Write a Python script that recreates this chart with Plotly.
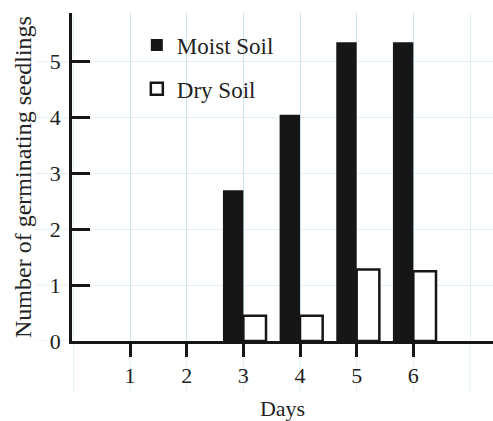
import plotly.graph_objects as go

# ---- data ----
days = [1, 2, 3, 4, 5, 6]
day_labels = ["1", "2", "3", "4", "5", "6"]
moist_soil = [0, 0, 2.7, 4.05, 5.35, 5.35]
dry_soil = [0, 0, 0.45, 0.45, 1.28, 1.25]
y_ticks = [0, 1, 2, 3, 4, 5]
y_tick_labels = ["0", "1", "2", "3", "4", "5"]
paper_grid_x = [0, 1, 2, 3, 4, 5, 6, 7]   # graph-paper lines behind the chart

FONT = "Liberation Serif"
INK = "#161616"
TXT = "#222222"
GRID = "rgba(160,205,230,0.30)"

fig = go.Figure()
fig.add_trace(go.Bar(
    x=days, y=[v if v > 0 else None for v in moist_soil], name="Moist Soil",
    width=0.36, offset=-0.36,
    marker=dict(color=INK, line=dict(width=0)),
    legendgroup="moist",
))
fig.add_trace(go.Bar(
    x=days, y=[v if v > 0 else None for v in dry_soil], name="Dry Soil",
    width=0.40, offset=0.0,
    marker=dict(color="white", line=dict(color=INK, width=2.5)),
    legendgroup="dry",
))

# graph-paper lines extending past the plotting area (left of y axis, below x axis)
for yv in y_ticks:
    fig.add_shape(type="line", xref="paper", yref="y", x0=-0.088, x1=0, y0=yv, y1=yv,
                  line=dict(color=GRID, width=1), layer="below")
for xv in paper_grid_x:
    fig.add_shape(type="line", xref="x", yref="paper", x0=xv, x1=xv, y0=-0.155, y1=0,
                  line=dict(color=GRID, width=1), layer="below")

fig.update_layout(
    width=493, height=421,
    margin=dict(l=72, r=0, t=13, b=80),
    paper_bgcolor="white", plot_bgcolor="white",
    font=dict(family=FONT, size=22, color=TXT),
    barmode="overlay",
    showlegend=True,
    legend=dict(
        x=0.154, y=0.968, xanchor="left", yanchor="top",
        bgcolor="rgba(0,0,0,0)", borderwidth=0,
        font=dict(family=FONT, size=23, color=TXT),
        traceorder="grouped", tracegroupgap=11,
    ),
    xaxis=dict(
        range=[-0.024, 7.406], automargin=False,
        tickmode="array", tickvals=days, ticktext=day_labels,
        ticks="outside", ticklen=13, tickwidth=2.5, tickcolor=INK,
        showline=True, linewidth=3, linecolor=INK,
        showgrid=True, gridcolor=GRID, gridwidth=1,
        minor=dict(dtick=1, tick0=0, showgrid=True, gridcolor=GRID, gridwidth=1),
        zeroline=False,
        tickfont=dict(family=FONT, size=22, color=TXT),
        ticklabelstandoff=0,
        title=dict(text="Days", font=dict(family=FONT, size=22, color=TXT), standoff=14),
    ),
    yaxis=dict(
        range=[0, 5.873], automargin=False,
        tickmode="array", tickvals=y_ticks, ticktext=y_tick_labels,
        ticks="inside", ticklen=18, tickwidth=2.5, tickcolor=INK,
        showline=True, linewidth=2.5, linecolor=INK,
        showgrid=True, gridcolor=GRID, gridwidth=1,
        zeroline=False,
        tickfont=dict(family=FONT, size=22, color=TXT),
        ticklabelstandoff=4,
        title=dict(text="Number of germinating seedlings",
                   font=dict(family=FONT, size=24, color=TXT), standoff=12),
    ),
)

fig.write_html("out.html", config={"displayModeBar": False},
               post_script="document.body.style.margin='0';")
